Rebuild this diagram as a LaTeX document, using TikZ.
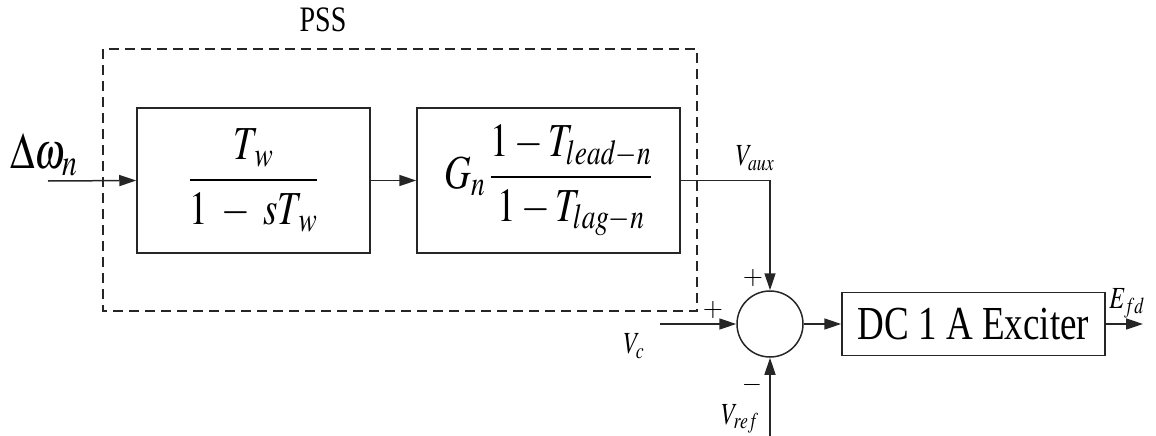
\documentclass[tikz,border=0pt]{standalone}
\usepackage{amsmath}
\usepackage{mathptmx}
\usepackage{fontspec}
\setmainfont{Liberation Serif}
\usepackage{tikz}
\usetikzlibrary{arrows.meta,positioning,calc}
\definecolor{Ink}{HTML}{262626}
\newcommand{\tall}[1]{\scalebox{1}[1.28]{#1}}
\tikzset{
  blk/.style={
    draw=Ink, line width=1.5pt, rectangle,
    inner sep=0pt, minimum height=145pt
  },
  sumnode/.style={draw=Ink,line width=1.5pt,circle,minimum size=66pt,inner sep=0pt},
  sig/.style={-{Triangle[length=17pt,width=11pt]},line width=1.5pt,draw=Ink},
  lbl/.style={inner sep=0pt,font=\fontsize{24}{28}\selectfont},
  sgn/.style={inner sep=0pt,font=\fontsize{26}{28}\selectfont}
}

\begin{document}
\begin{tikzpicture}[x=1pt,y=-1pt]
  \useasboundingbox (0,0) rectangle (1156,436);
  \node[font=\fontsize{28}{32}\selectfont] (pss) at (323,20) {\tall{PSS}};
  \draw[Ink,line width=1.5pt,dash pattern=on 10pt off 6pt] (103,49) rectangle (697,311);
  \node[anchor=base west,inner sep=0pt,font=\fontsize{40}{44}\selectfont] (dw) at (10,168) {\tall{$\Delta\omega_{n}$}};
  \coordinate (in) at (48,181);
  \node[blk,minimum width=233pt,font=\fontsize{37}{46}\selectfont] (wash) at (253.5,180.5) {\tall{$\dfrac{T_{\,w}}{1\;-\;sT_{\,w}}$}};
  \node[blk,minimum width=263pt,font=\fontsize{37}{46}\selectfont] (lead) at (548.5,180.5) {\tall{$G_{n}\,\dfrac{1-T_{lead-n}}{1-T_{lag-n}}$}};
  \node[sumnode] (sum) at (770,324) {};
  \node[blk,minimum width=263pt,minimum height=63pt,font=\fontsize{37}{42}\selectfont] (dc) at (973.5,324) {\tall{DC 1 A Exciter}};
  \coordinate (vc) at (660,324);
  \coordinate (vref) at (770,436);
  \coordinate (efd) at (1143,324);
  \draw[sig] (in)--(wash.west);
  \draw[sig] (wash)--(lead);
  \draw[sig] (lead.east)-|(sum.north);
  \draw[sig] (vc)--(sum.west);
  \draw[sig] (vref)--(sum.south);
  \draw[sig] (sum)--(dc);
  \draw[sig] (dc)--(efd);
  % signal names and signs
  \node[lbl] (vaux) at (755,158) {\tall{$V_{aux}$}};
  \node[sgn] (p1) at (753,278) {$+$};
  \node[sgn] (p2) at (713,310) {$+$};
  \node[sgn] (m1) at (752,385) {$-$};
  \node[lbl] (vclab) at (634,346) {\tall{$V_{c}$}};
  \node[lbl] (vreflab) at (740,419) {\tall{$V_{ref}$}};
  \node[lbl] (efdlab) at (1127,303) {\tall{$E_{fd}$}};
\end{tikzpicture}
\end{document}
